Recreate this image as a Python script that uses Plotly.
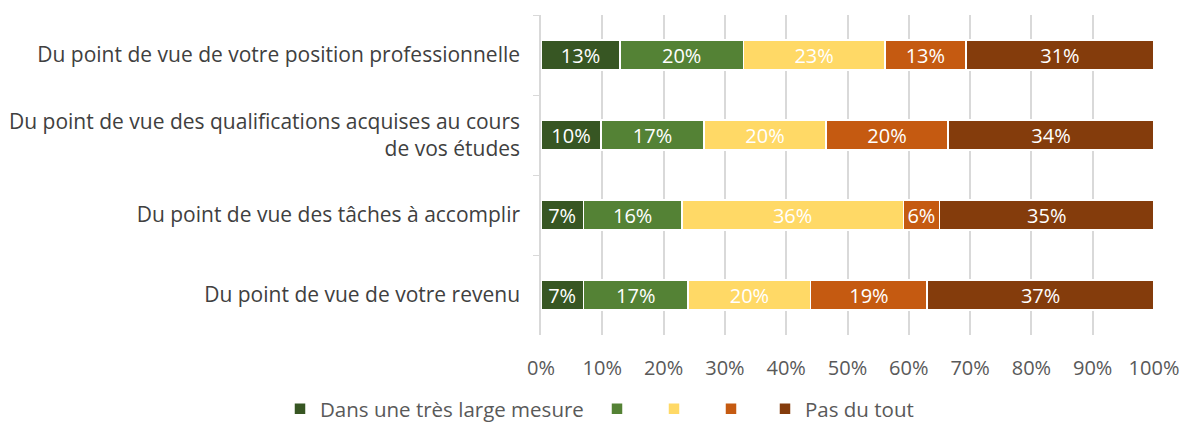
import plotly.graph_objects as go

categories = [
    "Du point de vue de votre position professionnelle",
    "Du point de vue des qualifications acquises au cours<br>de vos études",
    "Du point de vue des tâches à accomplir",
    "Du point de vue de votre revenu",
]
series_names = ["Dans une très large mesure", "", "", "", "Pas du tout"]
series_colors = ["#375623", "#548235", "#FFD966", "#C55A11", "#843C0C"]
legend_groups = ["legend", "legend2", "legend2", "legend2", "legend3"]

# Shares per category (fractions), one list per answer level
level1 = [0.129, 0.098, 0.069, 0.069]
level2 = [0.201, 0.168, 0.161, 0.171]
level3 = [0.231, 0.199, 0.361, 0.200]
level4 = [0.132, 0.199, 0.059, 0.190]
level5 = [0.307, 0.336, 0.350, 0.370]
levels = [level1, level2, level3, level4, level5]

x_ticks = [0, 0.1, 0.2, 0.3, 0.4, 0.5, 0.6, 0.7, 0.8, 0.9, 1.0]

FONT = "Open Sans, Calibri, sans-serif"
W, H = 1184, 423

fig = go.Figure()
for name, color, vals, lg in zip(series_names, series_colors, levels, legend_groups):
    fig.add_trace(go.Bar(
        y=categories,
        x=vals,
        name=name,
        legend=lg,
        orientation="h",
        marker=dict(color=color, line=dict(color="white", width=1.5)),
        texttemplate="%{x:.0%}",
        textposition="inside",
        insidetextanchor="middle",
        textfont=dict(color="white", size=20, family=FONT),
        constraintext="none",
        width=0.375,
        hoverinfo="skip",
    ))

legend_common = dict(
    orientation="h",
    xref="container", yref="container",
    xanchor="left", yanchor="middle",
    y=1 - 409 / H,
    font=dict(size=20.5, color="#595959", family=FONT),
    itemwidth=30,
    traceorder="normal",
    bgcolor="rgba(0,0,0,0)",
)

fig.update_layout(
    barmode="stack",
    width=W,
    height=H,
    margin=dict(l=541, r=30, t=15, b=88, autoexpand=False),
    paper_bgcolor="white",
    plot_bgcolor="white",
    font=dict(family=FONT, color="#595959", size=20),
    uniformtext=dict(minsize=20, mode="show"),
    showlegend=True,
    legend=dict(legend_common, x=280 / W),
    legend2=dict(legend_common, x=597 / W, entrywidth=12, entrywidthmode="pixels"),
    legend3=dict(legend_common, x=765 / W),
    xaxis=dict(
        range=[0, 1],
        tickvals=x_ticks,
        tickformat=".0%",
        showgrid=True,
        gridcolor="#d9d9d9",
        gridwidth=1.5,
        zeroline=False,
        showline=False,
        ticks="",
        automargin=False,
        tickfont=dict(size=20, color="#595959"),
        ticklabelstandoff=19,
    ),
    yaxis=dict(
        autorange="reversed",
        showline=True,
        linecolor="#d9d9d9",
        linewidth=1.5,
        ticks="outside",
        tickson="boundaries",
        ticklen=6,
        tickcolor="#d9d9d9",
        automargin=False,
        tickfont=dict(size=21, color="#404040"),
        ticklabelstandoff=15,
    ),
)

fig.write_html("out.html")
